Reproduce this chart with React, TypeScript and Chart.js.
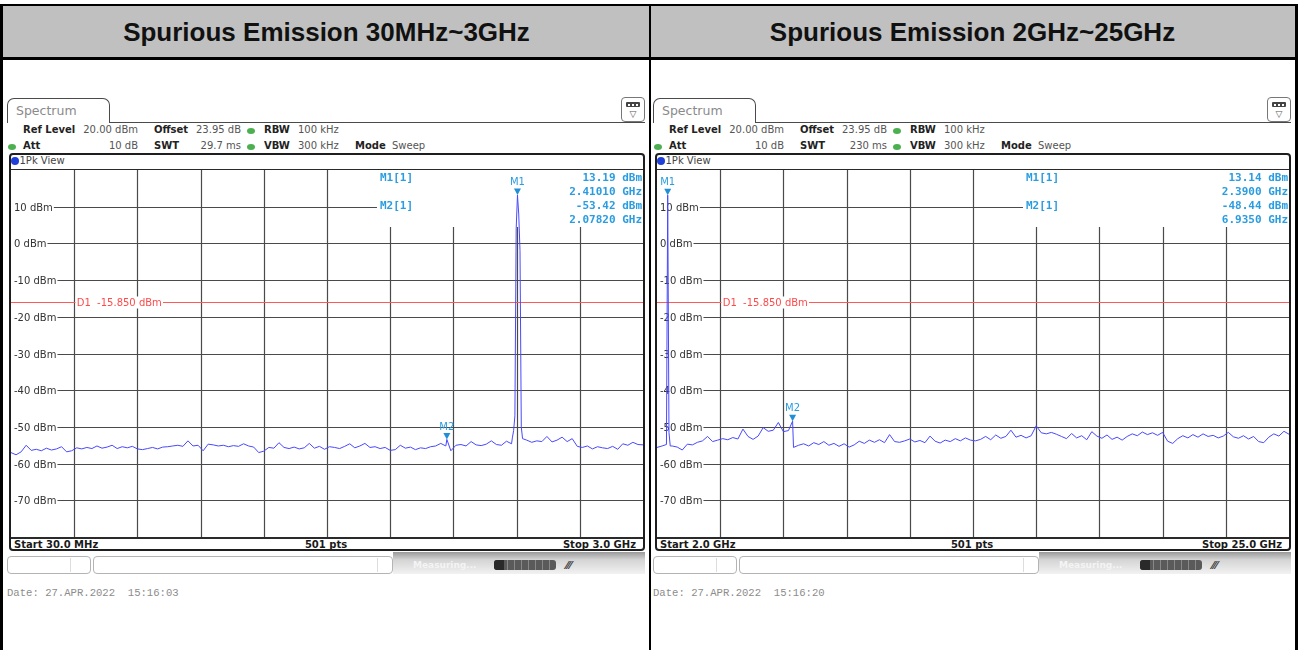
import React, { useEffect, useRef } from 'react';
import { Chart, registerables } from 'chart.js';
Chart.register(...registerables);

// ---------- texts ----------
const leftTitle = 'Spurious Emission 30MHz~3GHz';
const rightTitle = 'Spurious Emission 2GHz~25GHz';

const yTickValues = [10, 0, -10, -20, -30, -40, -50, -60, -70];
const yTickLabels = ['10 dBm', '0 dBm', '-10 dBm', '-20 dBm', '-30 dBm', '-40 dBm', '-50 dBm', '-60 dBm', '-70 dBm'];
const yMin = -80;
const yMax = 20;

const displayLineLevel = -15.85;
const displayLineLabel = 'D1  -15.850 dBm';

// ---------- left sweep (MHz) ----------
const leftStart = 30;
const leftStop = 3000;
const leftNoise = [
  -57.0, -57.6, -56.8, -55.0, -56.4, -56.1, -56.5, -55.8, -56.3, -56.0,
  -55.4, -56.8, -56.5, -55.7, -56.0, -55.6, -55.9, -55.2, -55.8, -55.5,
  -55.0, -55.9, -55.4, -55.7, -55.3, -56.0, -56.2, -55.9, -55.6, -56.0,
  -55.5, -55.4, -55.2, -55.0, -55.3, -53.8, -55.2, -55.0, -56.5, -54.7,
  -54.9, -55.2, -55.0, -55.4, -55.1, -55.3, -54.6, -55.2, -55.5, -57.0,
  -56.6, -55.6, -55.8, -54.3, -55.6, -55.9, -55.5, -56.0, -55.7, -54.5,
  -55.8, -55.3, -56.1, -55.4, -55.6, -55.9, -55.3, -54.6, -55.7, -55.2,
  -54.5, -55.6, -55.4, -55.9, -55.6, -56.4, -56.2, -55.0, -55.8, -55.5,
  -56.2, -55.7, -55.9, -55.4, -55.2, -54.5, -55.2, -56.5, -55.0, -54.8,
  -55.2, -54.0, -54.9, -55.1, -54.7, -53.8, -54.8, -55.0, -53.9, -54.6,
  -54.0, -54.0, -53.6, -54.2, -53.8, -54.0, -52.6, -54.1, -53.6, -52.8,
  -54.0, -53.2, -55.3, -55.6, -55.2, -56.0, -55.4, -55.7, -55.9, -55.3,
  -56.1, -54.6, -55.0, -54.2, -54.8, -54.9,
];
const leftPeakFreqs = [2386, 2392, 2398, 2404, 2410.1, 2416, 2422, 2428, 2434];
const leftPeakLevels = [-53.0, -51.0, -47.0, 4.0, 13.19, 8.0, -2.0, -50.0, -53.2];
const leftMarkerNames = ['M1', 'M2'];
const leftMarkerFreqs = [2410.1, 2078.2];
const leftMarkerLevels = [13.19, -53.42];
const leftMarkerInfoNames = ['M1[1]', 'M2[1]'];
const leftMarkerInfoValues = ['13.19 dBm', '2.41010 GHz', '-53.42 dBm', '2.07820 GHz'];

// ---------- right sweep (GHz) ----------
const rightStart = 2;
const rightStop = 25;
const rightNoise = [
  -55.6, -55.2, -54.7, -55.2, -55.5, -56.3, -54.7, -54.9, -54.2, -53.8,
  -52.6, -54.0, -53.6, -53.2, -53.5, -52.9, -53.3, -50.6, -52.6, -53.4,
  -52.5, -50.2, -51.2, -50.9, -48.8, -51.3, -51.0, -55.6, -55.0, -54.6,
  -55.2, -54.3, -54.8, -54.0, -55.0, -54.5, -55.3, -54.6, -55.5, -54.9,
  -53.9, -54.5, -53.6, -54.2, -53.5, -54.3, -52.1, -54.0, -54.2, -53.8,
  -53.3, -54.1, -53.7, -54.3, -52.5, -53.9, -54.4, -53.6, -54.0, -53.2,
  -53.8, -53.0, -53.6, -53.8, -53.4, -52.6, -53.5, -52.2, -53.1, -52.6,
  -50.9, -52.8, -52.3, -53.0, -52.4, -49.7, -51.6, -51.9, -51.5, -52.0,
  -52.6, -53.2, -51.8, -53.0, -52.4, -53.5, -51.3, -52.5, -53.1, -52.2,
  -53.4, -52.8, -53.6, -52.6, -51.9, -52.4, -51.4, -52.1, -51.6, -52.3,
  -51.5, -53.9, -54.5, -53.2, -52.4, -53.0, -52.1, -52.8, -51.9, -52.6,
  -52.3, -53.0, -52.5, -51.5, -52.7, -53.1, -52.4, -53.3, -52.6, -54.0,
  -54.3, -52.8, -51.9, -52.5, -51.2, -52.0,
];
const rightPeakFreqs = [2.344, 2.39, 2.436, 2.482];
const rightPeakLevels = [-54.8, 13.14, -51.5, -55.2];
const rightMarkerNames = ['M1', 'M2'];
const rightMarkerFreqs = [2.39, 6.935];
const rightMarkerLevels = [13.14, -48.44];
const rightMarkerInfoNames = ['M1[1]', 'M2[1]'];
const rightMarkerInfoValues = ['13.14 dBm', '2.3900 GHz', '-48.44 dBm', '6.9350 GHz'];

// ---------- settings texts ----------
const leftSettings = { swt: '29.7 ms', start: 'Start 30.0 MHz', stop: 'Stop 3.0 GHz', date: 'Date: 27.APR.2022  15:16:03' };
const rightSettings = { swt: '230 ms', start: 'Start 2.0 GHz', stop: 'Stop 25.0 GHz', date: 'Date: 27.APR.2022  15:16:20' };

const PLOT_W = 632;
const PLOT_H = 367;
const TRACE = '#4848ff';
const MARK = '#2a9de0';
const GRID = '#4a4a4a';

type PlotProps = {
  left: number;
  start: number;
  stop: number;
  noise: number[];
  peakF: number[];
  peakL: number[];
  mNames: string[];
  mF: number[];
  mL: number[];
  infoNames: string[];
  infoValues: string[];
};

function SpectrumPlot(p: PlotProps) {
  const ref = useRef<HTMLCanvasElement | null>(null);
  useEffect(() => {
    const canvas = ref.current;
    if (!canvas) return;
    const pts: { x: number; y: number }[] = [];
    const step = (p.stop - p.start) / (p.noise.length - 1);
    const lo = Math.min(...p.peakF);
    const hi = Math.max(...p.peakF);
    p.noise.forEach((v, i) => {
      const f = p.start + i * step;
      if (f >= lo && f <= hi) return;
      pts.push({ x: f, y: v });
    });
    p.peakF.forEach((f, i) => pts.push({ x: f, y: p.peakL[i] }));
    p.mF.forEach((f, i) => {
      if (!p.peakF.includes(f)) pts.push({ x: f, y: p.mL[i] });
    });
    pts.sort((a, b) => a.x - b.x);

    const boxLeft = 366; // marker info area (canvas coords)
    const boxBottom = 57;

    const gridPlugin = {
      id: 'rsGrid',
      beforeDatasetsDraw(chart: any) {
        const ctx = chart.ctx as CanvasRenderingContext2D;
        const a = chart.chartArea;
        const ys = chart.scales.y;
        ctx.save();
        ctx.strokeStyle = GRID;
        ctx.lineWidth = 1.2;
        for (let k = 1; k <= 9; k++) {
          const x = Math.round(a.left + (k * (a.right - a.left)) / 10) + 0.5;
          const y0 = x > boxLeft ? boxBottom : a.top;
          ctx.beginPath();
          ctx.moveTo(x, y0);
          ctx.lineTo(x, a.bottom);
          ctx.stroke();
        }
        ctx.font = '10px "DejaVu Sans"';
        ctx.textBaseline = 'middle';
        yTickValues.forEach((v, i) => {
          const y = Math.round(ys.getPixelForValue(v)) + 0.5;
          const lbl = yTickLabels[i];
          const w = ctx.measureText(lbl).width;
          ctx.fillStyle = '#fff';
          ctx.fillRect(a.left + 2, y - 6, w + 2, 12);
          ctx.fillStyle = '#333';
          ctx.fillText(lbl, a.left + 3, y + 0.5);
          ctx.beginPath();
          ctx.moveTo(a.left + 4 + w, y);
          ctx.lineTo(v === 10 ? boxLeft : a.right, y);
          ctx.stroke();
        });
        // display line D1
        const dy = Math.round(ys.getPixelForValue(displayLineLevel)) + 0.5;
        const lx = a.left + (a.right - a.left) / 10 + 2.5;
        const lw = ctx.measureText(displayLineLabel).width;
        ctx.strokeStyle = '#ff5a5a';
        ctx.lineWidth = 1.2;
        ctx.beginPath();
        ctx.moveTo(a.left, dy);
        ctx.lineTo(lx - 1, dy);
        ctx.moveTo(lx + lw + 1, dy);
        ctx.lineTo(a.right, dy);
        ctx.stroke();
        ctx.fillStyle = '#fff';
        ctx.fillRect(lx - 1, dy - 6, lw + 2, 12);
        ctx.fillStyle = '#ff4a4a';
        ctx.fillText(displayLineLabel, lx, dy + 0.5);
        ctx.restore();
      },
      afterDatasetsDraw(chart: any) {
        const ctx = chart.ctx as CanvasRenderingContext2D;
        const xs = chart.scales.x;
        const ys = chart.scales.y;
        ctx.save();
        // markers
        p.mNames.forEach((n, i) => {
          const x = xs.getPixelForValue(p.mF[i]);
          const y = ys.getPixelForValue(p.mL[i]);
          ctx.fillStyle = '#1f8fd8';
          ctx.beginPath();
          ctx.moveTo(x - 3.5, y - 6.5);
          ctx.lineTo(x + 3.5, y - 6.5);
          ctx.lineTo(x, y);
          ctx.closePath();
          ctx.fill();
          ctx.fillStyle = MARK;
          ctx.font = '10px "DejaVu Sans"';
          ctx.textAlign = 'center';
          ctx.textBaseline = 'middle';
          ctx.fillText(n, x, y - 12.5);
        });
        // marker info
        ctx.font = 'bold 11px "DejaVu Sans Mono"';
        ctx.fillStyle = MARK;
        ctx.textBaseline = 'middle';
        ctx.textAlign = 'left';
        ctx.fillText(p.infoNames[0], 369, 8.5);
        ctx.fillText(p.infoNames[1], 369, 36.5);
        ctx.textAlign = 'right';
        const rows = [8.5, 22, 36.5, 50];
        p.infoValues.forEach((t, i) => ctx.fillText(t, 631, rows[i]));
        ctx.restore();
      },
    };

    const chart = new Chart(canvas, {
      type: 'line',
      data: {
        datasets: [
          {
            data: pts,
            borderColor: TRACE,
            borderWidth: 1,
            pointRadius: 0,
            tension: 0,
            fill: false,
          },
        ],
      },
      options: {
        animation: false,
        responsive: false,
        maintainAspectRatio: false,
        devicePixelRatio: 1,
        layout: { padding: 0 },
        scales: {
          x: { type: 'linear', min: p.start, max: p.stop, display: false },
          y: { type: 'linear', min: yMin, max: yMax, display: false },
        },
        plugins: { legend: { display: false }, tooltip: { enabled: false } },
      },
      plugins: [gridPlugin],
    } as any);
    return () => chart.destroy();
  }, []);
  return (
    <canvas
      ref={ref}
      width={PLOT_W}
      height={PLOT_H}
      style={{ position: 'absolute', left: p.left, top: 170, width: PLOT_W, height: PLOT_H }}
    />
  );
}

type TxtProps = {
  x: number;
  y: number;
  t: string;
  anchor?: 'start' | 'middle' | 'end';
  size?: number;
  bold?: boolean;
  color?: string;
  family?: string;
};
const Txt = ({ x, y, t, anchor = 'start', size = 10, bold = false, color = '#222', family = '"DejaVu Sans", sans-serif' }: TxtProps) => (
  <div
    style={{
      position: 'absolute',
      left: x,
      top: y,
      transform: `translate(${anchor === 'end' ? '-100%' : anchor === 'middle' ? '-50%' : '0'}, -50%)`,
      fontSize: size,
      fontFamily: family,
      fontWeight: bold ? 700 : 400,
      color,
      whiteSpace: 'pre',
      lineHeight: 1,
    }}
  >
    {t}
  </div>
);

const Dot = ({ x, y, c }: { x: number; y: number; c: string }) => (
  <div style={{ position: 'absolute', left: x - 4, top: y - 3, width: 8, height: 6, borderRadius: '50%', background: c }} />
);

const Box = (s: React.CSSProperties) => <div style={{ position: 'absolute', ...s }} />;

type PanelProps = {
  ox: number;
  settings: { swt: string; start: string; stop: string; date: string };
  plot: Omit<PlotProps, 'left'>;
};

function Panel({ ox, settings, plot }: PanelProps) {
  const o = ox;
  return (
    <>
      {/* Tab */}
      <Box left={o + 7} top={98} width={103} height={25} border="1.5px solid #4a4a4a" borderBottom="none" borderRadius="7px 7px 0 0" boxSizing="border-box" background="#fff" />
      <Txt x={o + 16} y={111} t="Spectrum" size={12.5} color="#8a8a8a" />
      <Box left={o + 109} top={121.5} width={536} height={1.5} background="#4a4a4a" />
      {/* icon */}
      <Box left={o + 621} top={97} width={24} height={25} border="1.5px solid #777" borderRadius={4} boxSizing="border-box" background="#fff" />
      <Box left={o + 626} top={102} width={14} height={5} background="#444" borderRadius={1} />
      <Box left={o + 628} top={103.5} width={2} height={2} background="#fff" />
      <Box left={o + 632} top={103.5} width={2} height={2} background="#fff" />
      <Box left={o + 636} top={103.5} width={2} height={2} background="#fff" />
      <Txt x={o + 633} y={114} t="▽" anchor="middle" size={9} color="#555" />
      {/* settings */}
      <Txt x={o + 23} y={130} t="Ref Level" bold />
      <Txt x={o + 138} y={130} t="20.00 dBm" anchor="end" color="#555" />
      <Txt x={o + 154} y={130} t="Offset" bold />
      <Txt x={o + 241} y={130} t="23.95 dB" anchor="end" color="#555" />
      <Dot x={o + 251} y={130.5} c="#4cb050" />
      <Txt x={o + 264} y={130} t="RBW" bold />
      <Txt x={o + 298} y={130} t="100 kHz" color="#555" />
      <Dot x={o + 12} y={146.5} c="#4cb050" />
      <Txt x={o + 23} y={146} t="Att" bold />
      <Txt x={o + 138} y={146} t="10 dB" anchor="end" color="#555" />
      <Txt x={o + 154} y={146} t="SWT" bold />
      <Txt x={o + 241} y={146} t={settings.swt} anchor="end" color="#555" />
      <Dot x={o + 251} y={146.5} c="#4cb050" />
      <Txt x={o + 264} y={146} t="VBW" bold />
      <Txt x={o + 298} y={146} t="300 kHz" color="#555" />
      <Txt x={o + 355} y={146} t="Mode" bold />
      <Txt x={o + 392} y={146} t="Sweep" color="#555" />
      {/* frame */}
      <Box left={o + 9} top={153} width={636} height={398} border="2px solid #1e1e1e" borderRadius={4} boxSizing="border-box" background="#fff" />
      <div style={{ position: 'absolute', left: o + 11, top: 157, width: 8, height: 8, borderRadius: '50%', background: '#1f3fd8' }} />
      <Txt x={o + 19.5} y={161} t="1Pk View" color="#444" />
      <Box left={o + 11} top={168.5} width={632} height={1.5} background="#2a2a2a" />
      <SpectrumPlot left={o + 11} {...plot} />
      <Box left={o + 11} top={537} width={632} height={1.5} background="#2a2a2a" />
      <Txt x={o + 14} y={545} t={settings.start} bold color="#1a1a1a" />
      <Txt x={o + 326} y={545} t="501 pts" anchor="middle" bold color="#1a1a1a" />
      <Txt x={o + 636} y={545} t={settings.stop} anchor="end" bold color="#1a1a1a" />
      {/* status bar */}
      <Box left={o + 393} top={552} width={252} height={22} background="linear-gradient(#9a9a9a, #d4d4d4 35%, #f2f2f2)" />
      <Box left={o + 7} top={556} width={84} height={18} border="1px solid #b4b4b4" borderRadius={4} boxSizing="border-box" background="#fff" />
      <Box left={o + 70} top={558} width={1} height={14} background="#ddd" />
      <Box left={o + 93} top={556} width={300} height={18} border="1px solid #b4b4b4" borderRadius={4} boxSizing="border-box" background="#fff" />
      <Box left={o + 377} top={558} width={1} height={14} background="#ddd" />
      <Txt x={o + 413} y={565} t="Measuring..." size={9} bold color="#f4f4f4" />
      <Box left={o + 494} top={560} width={62} height={10} borderRadius={3} background="repeating-linear-gradient(90deg, #5a5a5a 0 6px, #888 6px 7px)" />
      <Box left={o + 494} top={560} width={10} height={10} borderRadius="3px 0 0 3px" background="#2a2a2a" />
      <Txt x={o + 566} y={565} t="⁄⁄⁄" size={11} bold color="#444" />
      {/* date */}
      <Txt x={o + 7} y={593} t={settings.date} size={10.6} color="#8c8c8c" family='"Liberation Mono", monospace' />
    </>
  );
}

export default function App() {
  useEffect(() => {
    document.body.style.margin = '0';
  }, []);
  return (
    <div style={{ position: 'absolute', left: 0, top: 0, width: 1298, height: 650, background: '#fff', overflow: 'hidden' }}>
      {/* header */}
      <Box left={3} top={6} width={1292} height={51} background="#c0c0c0" />
      <Txt x={326.5} y={32} t={leftTitle} anchor="middle" size={26} bold color="#111" family='"Liberation Sans", Arial, sans-serif' />
      <Txt x={972.5} y={32} t={rightTitle} anchor="middle" size={26} bold color="#111" family='"Liberation Sans", Arial, sans-serif' />
      <Panel
        ox={0}
        settings={leftSettings}
        plot={{
          start: leftStart,
          stop: leftStop,
          noise: leftNoise,
          peakF: leftPeakFreqs,
          peakL: leftPeakLevels,
          mNames: leftMarkerNames,
          mF: leftMarkerFreqs,
          mL: leftMarkerLevels,
          infoNames: leftMarkerInfoNames,
          infoValues: leftMarkerInfoValues,
        }}
      />
      <Panel
        ox={646}
        settings={rightSettings}
        plot={{
          start: rightStart,
          stop: rightStop,
          noise: rightNoise,
          peakF: rightPeakFreqs,
          peakL: rightPeakLevels,
          mNames: rightMarkerNames,
          mF: rightMarkerFreqs,
          mL: rightMarkerLevels,
          infoNames: rightMarkerInfoNames,
          infoValues: rightMarkerInfoValues,
        }}
      />
      {/* table borders */}
      <Box left={0} top={4} width={1298} height={2} background="#000" />
      <Box left={0} top={57} width={1298} height={2.5} background="#000" />
      <Box left={0} top={4} width={3} height={646} background="#000" />
      <Box left={1295} top={4} width={3} height={646} background="#000" />
      <Box left={649} top={4} width={2} height={646} background="#000" />
    </div>
  );
}
